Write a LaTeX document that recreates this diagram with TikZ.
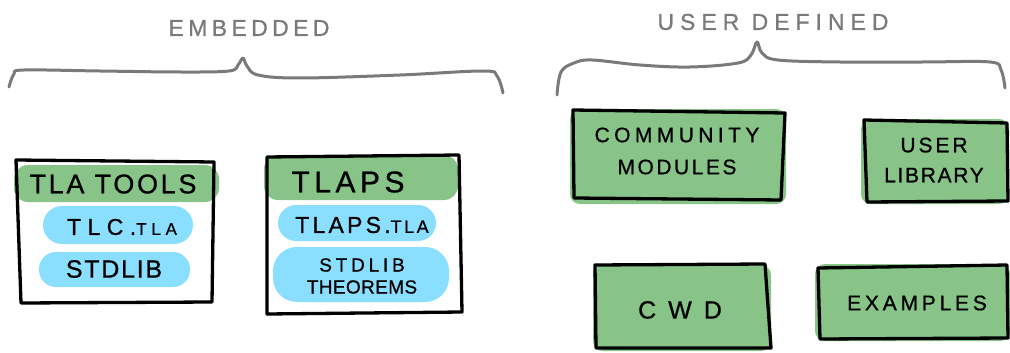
\documentclass[tikz,border=0pt]{standalone}
\usepackage{fontspec}
\setmainfont{Liberation Sans}[FakeBold=0.8]
\definecolor{boxgreen}{RGB}{136,196,136}
\definecolor{pillblue}{RGB}{138,222,255}
\definecolor{inkgray}{RGB}{122,122,122}
\tikzset{
  lbl/.style 2 args={font=\fontsize{#1}{#1}\selectfont\addfontfeatures{LetterSpace=#2}, inner sep=0pt, align=center},
  outline/.style={draw=black, line width=3.3pt, line join=round, line cap=round},
  brace/.style={draw=inkgray, line width=3pt, line cap=round, line join=round},
  greenfill/.style={fill=boxgreen},
  bluefill/.style={fill=pillblue},
}
\begin{document}
\begin{tikzpicture}[x=1pt,y=-1pt]
\useasboundingbox (0,0) rectangle (1010,353);

% ---- group headings and braces ----
\node[lbl={23}{19}, text=inkgray] (embedded) at (249,28) {EMBEDDED};
\node[lbl={23}{26}, text=inkgray] (userdef) at (773,22) {USER DEFINED};

\draw[brace] plot[smooth, tension=0.6] coordinates {
  (9,87) (14,74) (24,70) (100,71) (180,72) (229,71) (238,65) (243,58)
  (247,66) (258,75) (300,78) (400,75) (483,71) (497,76) (503,93)};
\draw[brace] plot[smooth, tension=0.6] coordinates {
  (557,95) (561,72) (574,63) (592,60) (640,65) (690,67) (738,63) (751,55) (757,42)
  (762,53) (778,60) (840,62) (923,62) (990,62) (1001,70) (1005,88)};

% ---- fills ----
\fill[greenfill, rounded corners=14pt] (14,165) rectangle (219,202);
\fill[greenfill, rounded corners=14pt] (264,155) rectangle (458,200);
\fill[bluefill, rounded corners=19pt] (43,206) rectangle (193,244);
\fill[bluefill, rounded corners=17pt] (39,252) rectangle (190,287);
\fill[bluefill, rounded corners=18pt] (278,205) rectangle (436,241);
\fill[bluefill, rounded corners=24pt] (273,247) rectangle (449,302);

\fill[greenfill, rounded corners=10pt] (570,109) rectangle (786,204);
\fill[greenfill, rounded corners=10pt] (861,119) rectangle (1009,204);
\fill[greenfill, rounded corners=10pt] (593,265) rectangle (771,351);
\fill[greenfill, rounded corners=10pt] (815,264) rectangle (1010,341);

% ---- outlines ----
\draw[outline] (16,160) -- (214,162) -- (212,302) -- (21,303) -- cycle;
\draw[outline] (267,157) -- (459,155) -- (462,312) -- (267,314) -- cycle;
\draw[outline] (573,110) -- (785,113) -- (781,200) -- (574,198) -- cycle;
\draw[outline] (864,120) -- (1007,123) -- (1008,201) -- (867,202) -- cycle;
\draw[outline] (595,265) -- (765,264) -- (771,348) -- (596,348) -- cycle;
\draw[outline] (818,268) -- (1007,265) -- (1008,338) -- (820,339) -- cycle;

% ---- labels ----
\node[lbl={27}{10}] (tlatools) at (113,184) {TLA TOOLS};
\node[lbl={23}{28}] (tlc) at (122,227) {TLC.{\fontsize{17}{17}\selectfont TLA}};
\node[lbl={25}{7}] (stdlib) at (114,269) {STDLIB};
\node[lbl={30}{15}] (tlaps) at (348,182) {TLAPS};
\node[lbl={23}{14}] (tlapstla) at (362,225) {TLAPS.{\fontsize{18}{18}\selectfont TLA}};
\node[font=\fontsize{19}{22}\selectfont, inner sep=0pt, align=center] (theorems) at (362,276)
  {{\addfontfeatures{LetterSpace=20}STDLIB}\\{\addfontfeatures{LetterSpace=2}THEOREMS}};
\node[font=\fontsize{21}{32}\selectfont, inner sep=0pt, align=center] (community) at (677,151)
  {{\addfontfeatures{LetterSpace=21}COMMUNITY}\\{\addfontfeatures{LetterSpace=12}MODULES}};
\node[font=\fontsize{21}{30}\selectfont, inner sep=0pt, align=center] (userlib) at (934,160)
  {{\addfontfeatures{LetterSpace=14}USER}\\{\addfontfeatures{LetterSpace=8}LIBRARY}};
\node[lbl={25}{48}] (cwd) at (680,310) {CWD};
\node[lbl={21}{18}] (examples) at (917,303) {EXAMPLES};
\end{tikzpicture}
\end{document}
